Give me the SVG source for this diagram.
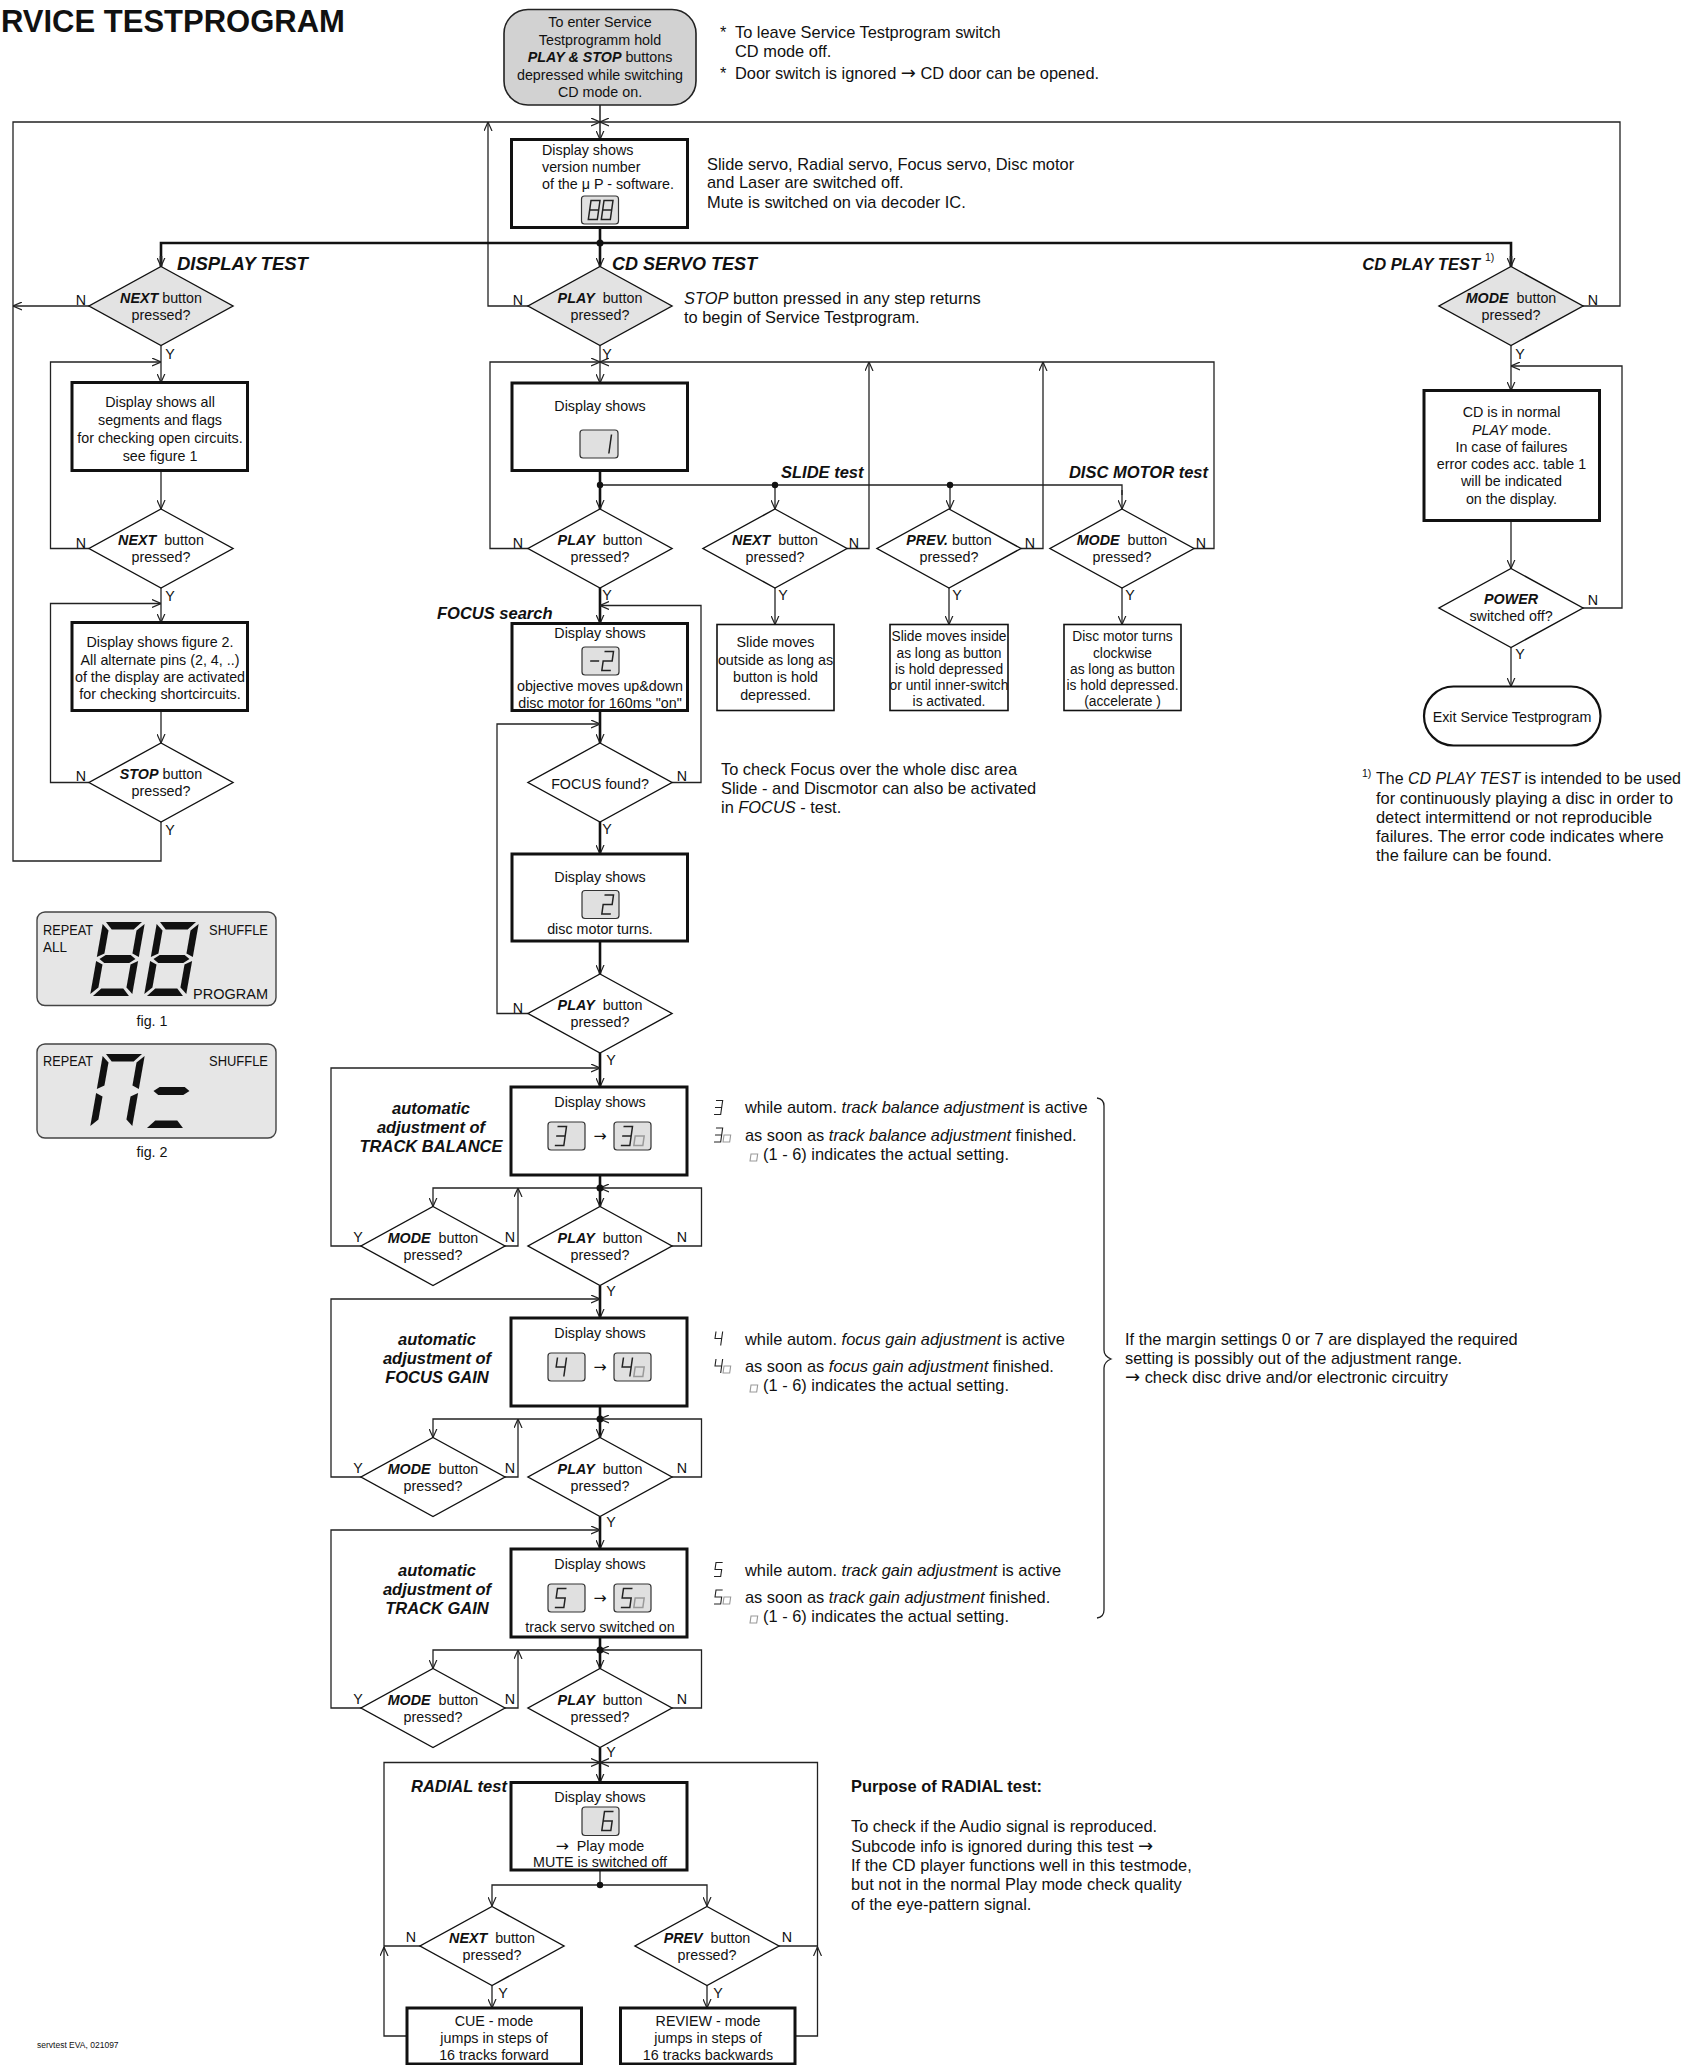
<svg xmlns="http://www.w3.org/2000/svg" width="1684" height="2065" viewBox="0 0 1684 2065">
<style>
text{font-family:"Liberation Sans",Arial,Helvetica,sans-serif;font-size:14.3px;fill:#111}
.c{text-anchor:middle}
.e{text-anchor:end}
.L{font-size:16.4px}
.bi{font-weight:bold;font-style:italic}
.i{font-style:italic}
.b{font-weight:bold}
.ar{font-family:"DejaVu Sans",sans-serif;font-size:1.1em}
.h1{font-size:18.5px;font-weight:bold;font-style:italic}
.h2{font-size:16.5px;font-weight:bold;font-style:italic}
.box{fill:#fff;stroke:#111;stroke-width:3}
.tb{fill:#fff;stroke:#111;stroke-width:1.6}
.dia{fill:#fff;stroke:#111;stroke-width:1.4}
.g{fill:#e3e3e3}
.ln{fill:none;stroke:#222;stroke-width:1.3;marker-end:url(#a)}
.no{fill:none;stroke:#222;stroke-width:1.3}
.th{fill:none;stroke:#111;stroke-width:2.6;marker-end:url(#a)}
.thn{fill:none;stroke:#111;stroke-width:2.6}
.lcd{fill:#e0e0e0;stroke:#333;stroke-width:1.2}
.sg{fill:none;stroke:#222;stroke-width:1.5}
.so{fill:none;stroke:#999;stroke-width:1.5}
.bs{fill:#111}
.fig{fill:#e6e6e6;stroke:#444;stroke-width:1.4}
.dot{fill:#111}
.fl{font-size:15.5px}
</style>
<defs>
<marker id="a" viewBox="0 0 9 9" refX="9" refY="4.5" markerWidth="9" markerHeight="9" markerUnits="userSpaceOnUse" orient="auto">
<path d="M0,0.5 L9,4.5 L0,8.5" fill="none" stroke="#222" stroke-width="1.2"/>
</marker>
<path id="n1" d="M9,0V19"/>
<path id="n2" d="M0,0H9V9.5H0V19H9"/>
<path id="n3" d="M0,0H9V19H0M0,9.5H9"/>
<path id="n4" d="M0,0V9.5H9M9,0V19"/>
<path id="n5" d="M9,0H0V9.5H9V19H0"/>
<path id="n6" d="M9,0H0V19H9V9.5H0"/>
<path id="n8" d="M0,0H9V19H0ZM0,9.5H9"/>
<path id="nm" d="M0,9.5H9"/>
<path id="no" d="M0,9.5H9V19H0Z"/>
<polygon id="sa" points="3,0 39,0 32,7.5 10,7.5"/>
<polygon id="sb" points="42,2 42,35 35,31.5 35,8.5"/>
<polygon id="sc" points="42,39 42,72 35,65.5 35,42.5"/>
<polygon id="sd" points="10,66.5 32,66.5 39,74 3,74"/>
<polygon id="se" points="0,39 7,42.5 7,65.5 0,72"/>
<polygon id="sf" points="0,2 7,8.5 7,31.5 0,35"/>
<polygon id="sgm" points="3,37 8.5,33 33.5,33 39,37 33.5,41 8.5,41"/>
</defs>

<rect width="1684" height="2065" fill="#fff"/>

<text x="1" y="32" style="font-size:31px;font-weight:bold">RVICE TESTPROGRAM</text>

<!-- ================= CONNECTORS ================= -->
<g id="connectors">
<path class="no" d="M600,105 V122" style="stroke-width:1.5"/>
<path class="ln" d="M600,122 V139.5" style="stroke-width:1.5"/>
<path class="ln" d="M161,821.5 V861 H13 V122 H600"/>
<path class="ln" d="M1583,306 H1620 V122 H600"/>
<path class="ln" d="M528,306 H488 V122"/>
<path class="ln" d="M89,306 H13"/>
<path class="th" d="M600,227.5 V266.5"/>
<path class="thn" d="M161,266.5 V243 H1511 V266.5"/>
<path class="ln" d="M161,256 V266.5" style="stroke-width:2.6"/>
<path class="ln" d="M1511,256 V266.5" style="stroke-width:2.6"/>
<circle class="dot" cx="600" cy="243" r="3.5"/>

<path class="ln" d="M161,345.5 V382.5"/>
<path class="ln" d="M89,548.5 H50.5 V362 H161"/>
<path class="ln" d="M161,470.5 V509"/>
<path class="ln" d="M161,588 V622.5"/>
<path class="ln" d="M89,782.5 H50.5 V603.5 H161"/>
<path class="ln" d="M161,710.5 V743"/>

<path class="ln" d="M600,345.5 V383"/>
<path class="ln" d="M528,548.5 H490 V362 H600"/>
<path class="ln" d="M1194,548.5 H1214 V362 H600"/>
<path class="ln" d="M847,548.5 H869 V362"/>
<path class="ln" d="M1021,548.5 H1043 V362"/>
<path class="th" d="M600,470.5 V509"/>
<path class="no" d="M600,485 H1122 V495"/>
<path class="ln" d="M1122,490 V509"/>
<path class="ln" d="M775,485 V509"/>
<path class="ln" d="M950,485 V509"/>
<circle class="dot" cx="600" cy="485" r="3.2"/>
<circle class="dot" cx="775" cy="485" r="3.2"/>
<circle class="dot" cx="950" cy="485" r="3.2"/>
<path class="ln" d="M775,588 V624.5"/>
<path class="ln" d="M949,588 V624.5"/>
<path class="ln" d="M1122,588 V624.5"/>

<path class="th" d="M600,588 V623.5"/>
<path class="ln" d="M672,782.5 H701 V605.5 H600"/>
<path class="th" d="M600,710.5 V743"/>
<path class="ln" d="M528,1013.5 H497 V724 H600"/>
<path class="th" d="M600,822 V854"/>
<path class="th" d="M600,941 V974"/>

<path class="th" d="M600,1053 V1087"/>
<path class="ln" d="M361,1246 H331 V1068 H600"/>
<path class="th" d="M600,1175 V1206.5"/>
<path class="ln" d="M600,1188 H433 V1206.5"/>
<path class="ln" d="M505,1246 H518 V1188"/>
<path class="ln" d="M672,1246 H701.5 V1188 H600"/>
<circle class="dot" cx="600" cy="1188" r="3.5"/>

<path class="th" d="M600,1285.5 V1318"/>
<path class="ln" d="M361,1477 H331 V1299 H600"/>
<path class="th" d="M600,1406 V1437.5"/>
<path class="ln" d="M600,1419 H433 V1437.5"/>
<path class="ln" d="M505,1477 H518 V1419"/>
<path class="ln" d="M672,1477 H701.5 V1419 H600"/>
<circle class="dot" cx="600" cy="1419" r="3.5"/>

<path class="th" d="M600,1516.5 V1549"/>
<path class="ln" d="M361,1708 H331 V1530 H600"/>
<path class="th" d="M600,1637 V1668.5"/>
<path class="ln" d="M600,1650 H433 V1668.5"/>
<path class="ln" d="M505,1708 H518 V1650"/>
<path class="ln" d="M672,1708 H701.5 V1650 H600"/>
<circle class="dot" cx="600" cy="1650" r="3.5"/>

<path class="th" d="M600,1747.5 V1782.5"/>
<path class="ln" d="M407,2036 H384 V1947"/>
<path class="ln" d="M384,1950 V1762.5 H600"/>
<path class="no" d="M420,1946 H384"/>
<path class="ln" d="M795,2036 H817.5 V1947"/>
<path class="ln" d="M817.5,1950 V1762.5 H600"/>
<path class="no" d="M779,1946 H817.5"/>
<path class="no" d="M600,1870 V1885"/>
<path class="ln" d="M600,1885 H492 V1906"/>
<path class="ln" d="M600,1885 H707 V1906"/>
<circle class="dot" cx="600" cy="1885" r="3.2"/>
<path class="ln" d="M492,1985.5 V2008"/>
<path class="ln" d="M707,1985.5 V2008"/>

<path class="ln" d="M1511,345.5 V390.5"/>
<path class="ln" d="M1583,608 H1622 V366 H1511"/>
<path class="ln" d="M1511,520.5 V568.5"/>
<path class="ln" d="M1511,647.5 V686.5"/>

<path class="no" d="M1097,1098 Q1104,1099 1104,1106 V1350 Q1104,1356 1111,1359 Q1104,1362 1104,1368 V1610 Q1104,1617 1097,1618"/>
</g>

<!-- ================= NODES ================= -->
<g id="start">
<rect x="504" y="9.5" width="192" height="95.5" rx="24" fill="#d2d2d2" stroke="#222" stroke-width="1.6"/>
<text class="c" x="600" y="27">To enter Service</text>
<text class="c" x="600" y="44.5">Testprogramm hold</text>
<text class="c" x="600" y="62"><tspan class="bi">PLAY &amp; STOP</tspan> buttons</text>
<text class="c" x="600" y="79.5">depressed while switching</text>
<text class="c" x="600" y="97">CD mode on.</text>
</g>

<g id="notes-top">
<text class="L" x="720" y="38">*</text>
<text class="L" x="735" y="38">To leave Service Testprogram switch</text>
<text class="L" x="735" y="57">CD mode off.</text>
<text class="L" x="720" y="78.5">*</text>
<text class="L" x="735" y="78.5">Door switch is ignored <tspan class="ar">→</tspan> CD door can be opened.</text>
</g>

<g id="version">
<rect class="box" x="511.5" y="139.5" width="176" height="88"/>
<text x="542" y="155">Display shows</text>
<text x="542" y="171.5">version number</text>
<text x="542" y="189">of the μ P - software.</text>
<rect class="lcd" x="581.5" y="196" width="37" height="28" rx="3"/>
<use href="#n8" class="sg" transform="translate(591,200.5) skewX(-8)"/>
<use href="#n8" class="sg" transform="translate(604,200.5) skewX(-8)"/>
</g>
<g id="servo-note">
<text class="L" x="707" y="169.5">Slide servo, Radial servo, Focus servo, Disc motor</text>
<text class="L" x="707" y="188">and Laser are switched off.</text>
<text class="L" x="707" y="207.5">Mute is switched on via decoder IC.</text>
</g>

<text class="h1" x="177" y="269.5">DISPLAY TEST</text>
<text class="h1" x="612" y="269.5" style="font-size:18px">CD SERVO TEST</text>
<text class="h2" x="1480" y="269.5" text-anchor="end">CD PLAY TEST</text>
<text x="1485" y="261" style="font-size:10.5px">1)</text>

<g id="d1">
<polygon class="dia g" points="161,266.5 233,306 161,345.5 89,306"/>
<text class="c" x="161" y="302.5"><tspan class="bi">NEXT</tspan> button</text>
<text class="c" x="161" y="319.5">pressed?</text>
<text class="c" x="81" y="305">N</text>
<text class="c" x="170" y="359">Y</text>
</g>
<g id="box1">
<rect class="box" x="72" y="382.5" width="175.5" height="88"/>
<text class="c" x="160" y="407">Display shows all</text>
<text class="c" x="160" y="425">segments and flags</text>
<text class="c" x="160" y="443">for checking open circuits.</text>
<text class="c" x="160" y="461">see figure 1</text>
</g>
<g id="d2">
<polygon class="dia" points="161,509 233,548.5 161,588 89,548.5"/>
<text class="c" x="161" y="545" xml:space="preserve"><tspan class="bi">NEXT</tspan>  button</text>
<text class="c" x="161" y="562">pressed?</text>
<text class="c" x="81" y="547.5">N</text>
<text class="c" x="170" y="601">Y</text>
</g>
<g id="box2">
<rect class="box" x="72" y="622.5" width="175.5" height="88"/>
<text class="c" x="160" y="647">Display shows figure 2.</text>
<text class="c" x="160" y="664.5">All alternate pins (2, 4, ..)</text>
<text class="c" x="160" y="681.5">of the display are activated</text>
<text class="c" x="160" y="699">for checking shortcircuits.</text>
</g>
<g id="d3">
<polygon class="dia" points="161,743 233,782.5 161,822 89,782.5"/>
<text class="c" x="161" y="779"><tspan class="bi">STOP</tspan> button</text>
<text class="c" x="161" y="796">pressed?</text>
<text class="c" x="81" y="781">N</text>
<text class="c" x="170" y="835">Y</text>
</g>

<g id="fig1">
<rect class="fig" x="37" y="912" width="239" height="93.5" rx="8"/>
<text x="43" y="934.5" class="fl" textLength="50" lengthAdjust="spacingAndGlyphs">REPEAT</text>
<text x="43" y="951.5" class="fl" textLength="24" lengthAdjust="spacingAndGlyphs">ALL</text>
<text x="209" y="934.5" class="fl" textLength="59" lengthAdjust="spacingAndGlyphs">SHUFFLE</text>
<text x="193" y="999" class="fl" textLength="75" lengthAdjust="spacingAndGlyphs">PROGRAM</text>
<g class="bs" transform="translate(103,922) skewX(-10)">
<use href="#sa"/><use href="#sb"/><use href="#sc"/><use href="#sd"/><use href="#se"/><use href="#sf"/><use href="#sgm"/>
</g>
<g class="bs" transform="translate(157,922) skewX(-10)">
<use href="#sa"/><use href="#sb"/><use href="#sc"/><use href="#sd"/><use href="#se"/><use href="#sf"/><use href="#sgm"/>
</g>
<text class="c" x="152" y="1025.5">fig. 1</text>
</g>
<g id="fig2">
<rect class="fig" x="37" y="1044" width="239" height="94" rx="8"/>
<text x="43" y="1066" class="fl" textLength="50" lengthAdjust="spacingAndGlyphs">REPEAT</text>
<text x="209" y="1066" class="fl" textLength="59" lengthAdjust="spacingAndGlyphs">SHUFFLE</text>
<g class="bs" transform="translate(103,1054) skewX(-10)">
<use href="#sa"/><use href="#sb"/><use href="#sc"/><use href="#se"/><use href="#sf"/>
</g>
<g class="bs" transform="translate(157,1054) skewX(-10)">
<use href="#sd"/><use href="#sgm"/>
</g>
<text class="c" x="152" y="1157">fig. 2</text>
</g>

<g id="d4">
<polygon class="dia g" points="600,266.5 672,306 600,345.5 528,306"/>
<text class="c" x="600" y="302.5" xml:space="preserve"><tspan class="bi">PLAY</tspan>  button</text>
<text class="c" x="600" y="319.5">pressed?</text>
<text class="c" x="518" y="305">N</text>
<text class="c" x="607" y="359">Y</text>
</g>
<g id="stop-note">
<text class="L" x="684" y="303.5"><tspan class="i">STOP</tspan> button pressed in any step returns</text>
<text class="L" x="684" y="322.5">to begin of Service Testprogram.</text>
</g>
<g id="box-1">
<rect class="box" x="512" y="383" width="175.5" height="87.5"/>
<text class="c" x="600" y="411">Display shows</text>
<rect class="lcd" x="580" y="430" width="38" height="28" rx="3"/>
<use href="#n1" class="sg" transform="translate(602.5,434.5) skewX(-8)"/>
</g>
<text class="h2" x="781" y="478">SLIDE test</text>
<text class="h2" x="1208" y="478" text-anchor="end">DISC MOTOR test</text>

<g id="d5">
<polygon class="dia" points="600,509 672,548.5 600,588 528,548.5"/>
<text class="c" x="600" y="545" xml:space="preserve"><tspan class="bi">PLAY</tspan>  button</text>
<text class="c" x="600" y="562">pressed?</text>
<text class="c" x="518" y="547.5">N</text>
<text class="c" x="607" y="600">Y</text>
</g>
<g id="d6">
<polygon class="dia" points="775,509 847,548.5 775,588 703,548.5"/>
<text class="c" x="775" y="545" xml:space="preserve"><tspan class="bi">NEXT</tspan>  button</text>
<text class="c" x="775" y="562">pressed?</text>
<text class="c" x="854" y="547.5">N</text>
<text class="c" x="783" y="600">Y</text>
</g>
<g id="d7">
<polygon class="dia" points="949,509 1021,548.5 949,588 877,548.5"/>
<text class="c" x="949" y="545"><tspan class="bi">PREV.</tspan> button</text>
<text class="c" x="949" y="562">pressed?</text>
<text class="c" x="1030" y="547.5">N</text>
<text class="c" x="957" y="600">Y</text>
</g>
<g id="d8">
<polygon class="dia" points="1122,509 1194,548.5 1122,588 1050,548.5"/>
<text class="c" x="1122" y="545" xml:space="preserve"><tspan class="bi">MODE</tspan>  button</text>
<text class="c" x="1122" y="562">pressed?</text>
<text class="c" x="1201" y="547.5">N</text>
<text class="c" x="1130" y="600">Y</text>
</g>
<g id="slide-out">
<rect class="tb" x="717" y="624.5" width="117" height="86"/>
<text class="c" x="775.5" y="646.5">Slide moves</text>
<text class="c" x="775.5" y="665">outside as long as</text>
<text class="c" x="775.5" y="681.5">button is hold</text>
<text class="c" x="775.5" y="700">depressed.</text>
</g>
<g id="slide-in">
<rect class="tb" x="890" y="624.5" width="118" height="86"/>
<text class="c" x="949" y="640.5" style="font-size:13.8px">Slide moves inside</text>
<text class="c" x="949" y="657.5" style="font-size:13.8px">as long as button</text>
<text class="c" x="949" y="673.5" style="font-size:13.8px">is hold depressed</text>
<text class="c" x="949" y="690" style="font-size:13.8px">or until inner-switch</text>
<text class="c" x="949" y="706" style="font-size:13.8px">is activated.</text>
</g>
<g id="disc-cw">
<rect class="tb" x="1064" y="624.5" width="117" height="86"/>
<text class="c" x="1122.5" y="641" style="font-size:13.8px">Disc motor turns</text>
<text class="c" x="1122.5" y="657.5" style="font-size:13.8px">clockwise</text>
<text class="c" x="1122.5" y="673.5" style="font-size:13.8px">as long as button</text>
<text class="c" x="1122.5" y="690" style="font-size:13.8px">is hold depressed.</text>
<text class="c" x="1122.5" y="706" style="font-size:13.8px">(accelerate )</text>
</g>

<text class="h2" x="437" y="619">FOCUS search</text>
<g id="box-m2">
<rect class="box" x="512" y="623.5" width="175.5" height="87"/>
<text class="c" x="600" y="638">Display shows</text>
<rect class="lcd" x="582" y="647" width="37" height="28" rx="3"/>
<use href="#nm" class="sg" transform="translate(591.5,651.5) skewX(-8)"/>
<use href="#n2" class="sg" transform="translate(604.5,651.5) skewX(-8)"/>
<text class="c" x="600" y="690.5">objective moves up&amp;down</text>
<text class="c" x="600" y="707.5">disc motor for 160ms "on"</text>
</g>
<g id="d9">
<polygon class="dia" points="600,743 672,782.5 600,822 528,782.5"/>
<text class="c" x="600" y="788.5">FOCUS found?</text>
<text class="c" x="682" y="780.5">N</text>
<text class="c" x="607" y="833.5">Y</text>
</g>
<g id="focus-note">
<text class="L" x="721" y="774.5">To check Focus over the whole disc area</text>
<text class="L" x="721" y="793.5">Slide - and Discmotor can also be activated</text>
<text class="L" x="721" y="813">in <tspan class="i">FOCUS</tspan> - test.</text>
</g>
<g id="box-2">
<rect class="box" x="512" y="854" width="175.5" height="87"/>
<text class="c" x="600" y="882">Display shows</text>
<rect class="lcd" x="582" y="890.5" width="37" height="28" rx="3"/>
<use href="#n2" class="sg" transform="translate(604.5,895) skewX(-8)"/>
<text class="c" x="600" y="934">disc motor turns.</text>
</g>
<g id="d10">
<polygon class="dia" points="600,974 672,1013.5 600,1053 528,1013.5"/>
<text class="c" x="600" y="1010" xml:space="preserve"><tspan class="bi">PLAY</tspan>  button</text>
<text class="c" x="600" y="1027">pressed?</text>
<text class="c" x="518" y="1012.5">N</text>
<text class="c" x="611" y="1065">Y</text>
</g>

<g id="tb">
<text class="c h2" x="431" y="1114">automatic</text>
<text class="c h2" x="431" y="1133">adjustment of</text>
<text class="c h2" x="431" y="1152">TRACK BALANCE</text>
<rect class="box" x="511" y="1087" width="176" height="88"/>
<text class="c" x="600" y="1107">Display shows</text>
<rect class="lcd" x="548" y="1122" width="37" height="28" rx="3"/>
<use href="#n3" class="sg" transform="translate(557.5,1126.5) skewX(-8)"/>
<text class="c" x="600" y="1141"><tspan class="ar">→</tspan></text>
<rect class="lcd" x="614" y="1122" width="37" height="28" rx="3"/>
<use href="#n3" class="sg" transform="translate(623.5,1126.5) skewX(-8)"/>
<use href="#no" class="so" transform="translate(636.5,1126.5) skewX(-8)"/>
</g>
<g id="d11">
<polygon class="dia" points="433,1206.5 505,1246 433,1285.5 361,1246"/>
<text class="c" x="433" y="1242.5" xml:space="preserve"><tspan class="bi">MODE</tspan>  button</text>
<text class="c" x="433" y="1259.5">pressed?</text>
<text class="c" x="358" y="1242">Y</text>
<text class="c" x="510" y="1242">N</text>
</g>
<g id="d12">
<polygon class="dia" points="600,1206.5 672,1246 600,1285.5 528,1246"/>
<text class="c" x="600" y="1242.5" xml:space="preserve"><tspan class="bi">PLAY</tspan>  button</text>
<text class="c" x="600" y="1259.5">pressed?</text>
<text class="c" x="682" y="1242">N</text>
<text class="c" x="611" y="1296">Y</text>
</g>
<g id="tb-note">
<use href="#n3" class="sg" transform="translate(716,1100.5) skewX(-8) scale(0.74)"/>
<text class="L" x="745" y="1113">while autom. <tspan class="i">track balance adjustment</tspan> is active</text>
<use href="#n3" class="sg" transform="translate(716,1128) skewX(-8) scale(0.74)"/>
<use href="#no" class="so" transform="translate(725,1128) skewX(-8) scale(0.74)"/>
<text class="L" x="745" y="1140.5">as soon as <tspan class="i">track balance adjustment</tspan> finished.</text>
<use href="#no" class="so" transform="translate(752,1147) skewX(-8) scale(0.74)"/>
<text class="L" x="763" y="1159.5">(1 - 6) indicates the actual setting.</text>
</g>

<g id="fg">
<text class="c h2" x="437" y="1345">automatic</text>
<text class="c h2" x="437" y="1364">adjustment of</text>
<text class="c h2" x="437" y="1383">FOCUS GAIN</text>
<rect class="box" x="511" y="1318" width="176" height="88"/>
<text class="c" x="600" y="1338">Display shows</text>
<rect class="lcd" x="548" y="1353" width="37" height="28" rx="3"/>
<use href="#n4" class="sg" transform="translate(557.5,1357.5) skewX(-8)"/>
<text class="c" x="600" y="1372"><tspan class="ar">→</tspan></text>
<rect class="lcd" x="614" y="1353" width="37" height="28" rx="3"/>
<use href="#n4" class="sg" transform="translate(623.5,1357.5) skewX(-8)"/>
<use href="#no" class="so" transform="translate(636.5,1357.5) skewX(-8)"/>
</g>
<g id="d13">
<polygon class="dia" points="433,1437.5 505,1477 433,1516.5 361,1477"/>
<text class="c" x="433" y="1473.5" xml:space="preserve"><tspan class="bi">MODE</tspan>  button</text>
<text class="c" x="433" y="1490.5">pressed?</text>
<text class="c" x="358" y="1473">Y</text>
<text class="c" x="510" y="1473">N</text>
</g>
<g id="d14">
<polygon class="dia" points="600,1437.5 672,1477 600,1516.5 528,1477"/>
<text class="c" x="600" y="1473.5" xml:space="preserve"><tspan class="bi">PLAY</tspan>  button</text>
<text class="c" x="600" y="1490.5">pressed?</text>
<text class="c" x="682" y="1473">N</text>
<text class="c" x="611" y="1527">Y</text>
</g>
<g id="fg-note">
<use href="#n4" class="sg" transform="translate(716,1331.5) skewX(-8) scale(0.74)"/>
<text class="L" x="745" y="1344.5">while autom. <tspan class="i">focus gain adjustment</tspan> is active</text>
<use href="#n4" class="sg" transform="translate(716,1359) skewX(-8) scale(0.74)"/>
<use href="#no" class="so" transform="translate(725,1359) skewX(-8) scale(0.74)"/>
<text class="L" x="745" y="1371.5">as soon as <tspan class="i">focus gain adjustment</tspan> finished.</text>
<use href="#no" class="so" transform="translate(752,1378) skewX(-8) scale(0.74)"/>
<text class="L" x="763" y="1390.5">(1 - 6) indicates the actual setting.</text>
</g>

<g id="tg">
<text class="c h2" x="437" y="1576">automatic</text>
<text class="c h2" x="437" y="1595">adjustment of</text>
<text class="c h2" x="437" y="1614">TRACK GAIN</text>
<rect class="box" x="511" y="1549" width="176" height="88"/>
<text class="c" x="600" y="1569">Display shows</text>
<rect class="lcd" x="548" y="1584" width="37" height="28" rx="3"/>
<use href="#n5" class="sg" transform="translate(557.5,1588.5) skewX(-8)"/>
<text class="c" x="600" y="1603"><tspan class="ar">→</tspan></text>
<rect class="lcd" x="614" y="1584" width="37" height="28" rx="3"/>
<use href="#n5" class="sg" transform="translate(623.5,1588.5) skewX(-8)"/>
<use href="#no" class="so" transform="translate(636.5,1588.5) skewX(-8)"/>
<text class="c" x="600" y="1632">track servo switched on</text>
</g>
<g id="d15">
<polygon class="dia" points="433,1668.5 505,1708 433,1747.5 361,1708"/>
<text class="c" x="433" y="1704.5" xml:space="preserve"><tspan class="bi">MODE</tspan>  button</text>
<text class="c" x="433" y="1721.5">pressed?</text>
<text class="c" x="358" y="1704">Y</text>
<text class="c" x="510" y="1704">N</text>
</g>
<g id="d16">
<polygon class="dia" points="600,1668.5 672,1708 600,1747.5 528,1708"/>
<text class="c" x="600" y="1704.5" xml:space="preserve"><tspan class="bi">PLAY</tspan>  button</text>
<text class="c" x="600" y="1721.5">pressed?</text>
<text class="c" x="682" y="1704">N</text>
<text class="c" x="611" y="1757">Y</text>
</g>
<g id="tg-note">
<use href="#n5" class="sg" transform="translate(716,1562.5) skewX(-8) scale(0.74)"/>
<text class="L" x="745" y="1575.5">while autom. <tspan class="i">track gain adjustment</tspan> is active</text>
<use href="#n5" class="sg" transform="translate(716,1590) skewX(-8) scale(0.74)"/>
<use href="#no" class="so" transform="translate(725,1590) skewX(-8) scale(0.74)"/>
<text class="L" x="745" y="1602.5">as soon as <tspan class="i">track gain adjustment</tspan> finished.</text>
<use href="#no" class="so" transform="translate(752,1609) skewX(-8) scale(0.74)"/>
<text class="L" x="763" y="1621.5">(1 - 6) indicates the actual setting.</text>
</g>
<g id="margin-note">
<text class="L" x="1125" y="1344.5">If the margin settings 0 or 7 are displayed the required</text>
<text class="L" x="1125" y="1363.5">setting is possibly out of the adjustment range.</text>
<text class="L" x="1125" y="1383"><tspan class="ar">→</tspan> check disc drive and/or electronic circuitry</text>
</g>

<text class="h2" x="411" y="1792">RADIAL test</text>
<g id="radial">
<rect class="box" x="511" y="1782.5" width="176" height="87.5"/>
<text class="c" x="600" y="1802">Display shows</text>
<rect class="lcd" x="582" y="1807" width="37" height="28.5" rx="3"/>
<use href="#n6" class="sg" transform="translate(604.5,1811.5) skewX(-8)"/>
<text class="c" x="600" y="1851" xml:space="preserve"><tspan class="ar">→</tspan>  Play mode</text>
<text class="c" x="600" y="1867">MUTE is switched off</text>
</g>
<g id="d17">
<polygon class="dia" points="492,1906.5 564,1946 492,1985.5 420,1946"/>
<text class="c" x="492" y="1942.5" xml:space="preserve"><tspan class="bi">NEXT</tspan>  button</text>
<text class="c" x="492" y="1959.5">pressed?</text>
<text class="c" x="411" y="1942">N</text>
<text class="c" x="503" y="1997.5">Y</text>
</g>
<g id="d18">
<polygon class="dia" points="707,1906.5 779,1946 707,1985.5 635,1946"/>
<text class="c" x="707" y="1942.5" xml:space="preserve"><tspan class="bi">PREV</tspan>  button</text>
<text class="c" x="707" y="1959.5">pressed?</text>
<text class="c" x="787" y="1942">N</text>
<text class="c" x="718" y="1997.5">Y</text>
</g>
<g id="cue">
<rect class="box" x="407" y="2008" width="174.5" height="56"/>
<text class="c" x="494" y="2025.5">CUE - mode</text>
<text class="c" x="494" y="2043">jumps in steps of</text>
<text class="c" x="494" y="2060">16 tracks forward</text>
</g>
<g id="review">
<rect class="box" x="620.5" y="2008" width="174.5" height="56"/>
<text class="c" x="708" y="2025.5">REVIEW - mode</text>
<text class="c" x="708" y="2043">jumps in steps of</text>
<text class="c" x="708" y="2060">16 tracks backwards</text>
</g>
<g id="radial-note">
<text class="L b" x="851" y="1792">Purpose of RADIAL test:</text>
<text class="L" x="851" y="1832">To check if the Audio signal is reproduced.</text>
<text class="L" x="851" y="1851.5">Subcode info is ignored during this test <tspan class="ar">→</tspan></text>
<text class="L" x="851" y="1871">If the CD player functions well in this testmode,</text>
<text class="L" x="851" y="1890">but not in the normal Play mode check quality</text>
<text class="L" x="851" y="1909.5">of the eye-pattern signal.</text>
</g>

<g id="d19">
<polygon class="dia g" points="1511,266.5 1583,306 1511,345.5 1439,306"/>
<text class="c" x="1511" y="302.5" xml:space="preserve"><tspan class="bi">MODE</tspan>  button</text>
<text class="c" x="1511" y="319.5">pressed?</text>
<text class="c" x="1593" y="305">N</text>
<text class="c" x="1520" y="359">Y</text>
</g>
<g id="play-box">
<rect class="box" x="1424" y="390.5" width="175.5" height="130"/>
<text class="c" x="1511.5" y="417">CD is in normal</text>
<text class="c" x="1511.5" y="434.5"><tspan class="i">PLAY</tspan> mode.</text>
<text class="c" x="1511.5" y="452">In case of failures</text>
<text class="c" x="1511.5" y="469">error codes acc. table 1</text>
<text class="c" x="1511.5" y="486">will be indicated</text>
<text class="c" x="1511.5" y="503.5">on the display.</text>
</g>
<g id="d20">
<polygon class="dia" points="1511,568.5 1583,608 1511,647.5 1439,608"/>
<text class="c bi" x="1511" y="604">POWER</text>
<text class="c" x="1511" y="621">switched off?</text>
<text class="c" x="1593" y="604.5">N</text>
<text class="c" x="1520" y="659">Y</text>
</g>
<g id="exit">
<rect x="1424" y="686.5" width="176.5" height="59" rx="29.5" fill="#fff" stroke="#111" stroke-width="2.2"/>
<text class="c" x="1512" y="722">Exit Service Testprogram</text>
</g>
<g id="footnote">
<text x="1362" y="777" style="font-size:10.5px">1)</text>
<text class="L" x="1376" y="784" textLength="305" lengthAdjust="spacingAndGlyphs">The <tspan class="i">CD PLAY TEST</tspan> is intended to be used</text>
<text class="L" x="1376" y="804">for continuously playing a disc in order to</text>
<text class="L" x="1376" y="823">detect intermittend or not reproducible</text>
<text class="L" x="1376" y="842">failures. The error code indicates where</text>
<text class="L" x="1376" y="861">the failure can be found.</text>
</g>

<text x="37" y="2048" style="font-size:8.5px">servtest EVA, 021097</text>
</svg>
